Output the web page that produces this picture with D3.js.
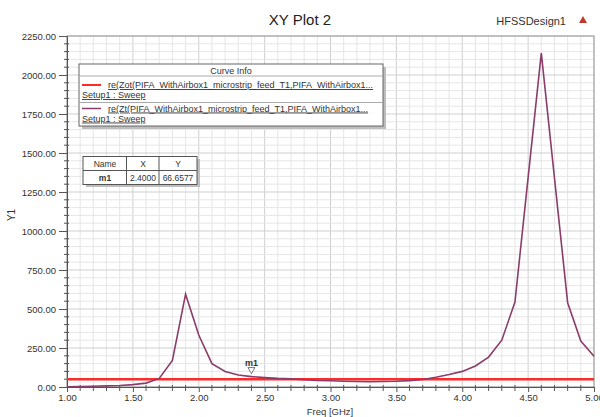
<!DOCTYPE html>
<html><head><meta charset="utf-8">
<script src="https://cdn.jsdelivr.net/npm/d3@7"></script>
<style>body{margin:0;background:#fff}svg{display:block;font-family:Arial,"Liberation Sans",sans-serif}</style>
</head><body><svg id="c" width="600" height="417"></svg>
<script>
const freqZt = [1.0,1.1,1.2,1.3,1.4,1.5,1.6,1.7,1.8,1.9,2.0,2.1,2.2,2.3,2.4,2.5,2.6,2.7,2.8,2.9,3.0,3.1,3.2,3.3,3.4,3.5,3.6,3.7,3.8,3.9,4.0,4.1,4.2,4.3,4.4,4.6,4.8,4.9,5.0];
const valZt  = [2,3,5,7,10,15,25,55,170,595,333,150,100,77,66.6577,60,55,52,46,42,40,37,35,34,35,37,41,48,62,80,100,135,192,300,545,2140,540,295,197];
const freqZot = [1.0,5.0];
const valZot = [50,50];
const yTicks = [0,250,500,750,1000,1250,1500,1750,2000,2250];
const xTicks = [1.0,1.5,2.0,2.5,3.0,3.5,4.0,4.5,5.0];
const legendLabels = ["re(Zot(PIFA_WithAirbox1_microstrip_feed_T1,PIFA_WithAirbox1...","re(Zt(PIFA_WithAirbox1_microstrip_feed_T1,PIFA_WithAirbox1..."];
const markerName = "m1", markerX = 2.4, markerY = 66.6577;

const svg = d3.select("#c");
const L=67,R=594,T=36,B=387;
const x = d3.scaleLinear().domain([1,5]).range([L,R]);
const y = d3.scaleLinear().domain([0,2250]).range([B,T]);

// grid
const g = svg.append("g");
g.selectAll("line.vx").data(d3.range(1,5.0001,0.1)).join("line")
 .attr("x1",d=>x(d)).attr("x2",d=>x(d)).attr("y1",T).attr("y2",B)
 .attr("stroke",(d,i)=>i%5==0?"#cfcfcf":"#e6e6e6").attr("stroke-width",1);
g.selectAll("line.hy").data(d3.range(0,2250.1,50)).join("line")
 .attr("y1",d=>y(d)).attr("y2",d=>y(d)).attr("x1",L).attr("x2",R)
 .attr("stroke",(d,i)=>i%5==0?"#cfcfcf":"#e6e6e6").attr("stroke-width",1);
svg.append("rect").attr("x",L).attr("y",T).attr("width",R-L).attr("height",B-T)
 .attr("fill","none").attr("stroke","#9a9a9a").attr("stroke-width",1);

// axes
const ya = d3.axisLeft(y).tickValues(yTicks).tickFormat(d3.format(".2f")).tickSize(8).tickPadding(3);
const yAx = svg.append("g").attr("transform",`translate(${L},0)`).call(ya);
const xa = d3.axisBottom(x).tickValues(xTicks).tickFormat(d3.format(".2f")).tickSize(5).tickPadding(2);
const xAx = svg.append("g").attr("transform",`translate(0,${B})`).call(xa);
[yAx,xAx].forEach(a=>{a.select(".domain").attr("stroke","#555");a.selectAll(".tick line").attr("stroke","#555");
 a.selectAll("text").attr("font-size",9.5).attr("fill","#333").attr("font-family","Arial,'Liberation Sans',sans-serif");});
// minor ticks
svg.append("g").selectAll("line").data(d3.range(0,2250.1,50).filter(v=>v%250!=0)).join("line")
 .attr("x1",L-3).attr("x2",L+2).attr("y1",d=>y(d)).attr("y2",d=>y(d)).attr("stroke","#555");
svg.append("g").selectAll("line").data(d3.range(1,5.0001,0.1).filter((v,i)=>i%5!=0)).join("line")
 .attr("x1",d=>x(d)).attr("x2",d=>x(d)).attr("y1",B-2).attr("y2",B+4).attr("stroke","#555");

// curves
const line = d3.line().x(d=>x(d[0])).y(d=>y(d[1]));
svg.append("path").datum(freqZot.map((f,i)=>[f,valZot[i]])).attr("d",line)
 .attr("fill","none").attr("stroke","#ff2a2a").attr("stroke-width",2.5);
svg.append("path").datum(freqZt.map((f,i)=>[f,valZt[i]])).attr("d",line)
 .attr("fill","none").attr("stroke","#8a3d6a").attr("stroke-width",1.6);

// marker
const mx=x(markerX), my=y(markerY);
svg.append("path").attr("d",`M${mx-3.5},${my-9}L${mx+3.5},${my-9}L${mx},${my-3}Z`).attr("fill","#fff").attr("stroke","#555").attr("stroke-width",0.8);
svg.append("text").attr("x",mx).attr("y",my-11).attr("text-anchor","middle").attr("font-size",9).attr("font-weight","bold").attr("fill","#333").text(markerName);

// titles
svg.append("text").attr("x",300).attr("y",25).attr("text-anchor","middle").attr("font-size",15).attr("fill","#222").text("XY Plot 2");
svg.append("text").attr("x",566).attr("y",25).attr("text-anchor","end").attr("font-size",11).attr("fill","#333").text("HFSSDesign1");
svg.append("path").attr("d","M583,16L587,23L579,23Z").attr("fill","#c0392b");
svg.append("text").attr("x",330).attr("y",415).attr("text-anchor","middle").attr("font-size",9.5).attr("fill","#333").text("Freq [GHz]");
svg.append("text").attr("transform","translate(15,215) rotate(-90)").attr("text-anchor","middle").attr("font-size",10).attr("fill","#333").text("Y1");

// legend box
const lg = svg.append("g");
lg.append("rect").attr("x",82).attr("y",67).attr("width",304).attr("height",62).attr("fill","#bdbdbd");
lg.append("rect").attr("x",79).attr("y",64).attr("width",304).attr("height",62).attr("fill","#fff").attr("stroke","#666").attr("stroke-width",1);
lg.append("text").attr("x",231).attr("y",74).attr("text-anchor","middle").attr("font-size",9).attr("fill","#333").text("Curve Info");
lg.append("line").attr("x1",79).attr("x2",383).attr("y1",76).attr("y2",76).attr("stroke","#aaa");
lg.append("line").attr("x1",79).attr("x2",383).attr("y1",102.5).attr("y2",102.5).attr("stroke","#aaa");
const legColors=["#ff2a2a","#8a3d6a"];
legendLabels.forEach((t,i)=>{
  const yy=85+i*23.5;
  lg.append("line").attr("x1",82).attr("x2",101).attr("y1",yy).attr("y2",yy).attr("stroke",legColors[i]).attr("stroke-width",i==0?2:1.5);
  lg.append("text").attr("x",108).attr("y",yy+3).attr("font-size",9).attr("fill","#333").attr("text-decoration","underline").text(t);
  lg.append("text").attr("x",82).attr("y",yy+13).attr("font-size",9).attr("fill","#333").attr("text-decoration","underline").text("Setup1 : Sweep");
});

// marker table
const tb = svg.append("g");
tb.append("rect").attr("x",86).attr("y",159).attr("width",114).attr("height",28).attr("fill","#bdbdbd");
tb.append("rect").attr("x",83).attr("y",156.5).attr("width",114).attr("height",28).attr("fill","#fff").attr("stroke","#555");
tb.append("line").attr("x1",83).attr("x2",197).attr("y1",170.5).attr("y2",170.5).attr("stroke","#555");
[126.5,159].forEach(v=>tb.append("line").attr("x1",v).attr("x2",v).attr("y1",156.5).attr("y2",184.5).attr("stroke","#555"));
const hdr=["Name","X","Y"], row=[markerName,markerX.toFixed(4),markerY.toFixed(4)], cx=[105,143,178];
hdr.forEach((h,i)=>tb.append("text").attr("x",cx[i]).attr("y",167).attr("text-anchor","middle").attr("font-size",8.5).attr("fill","#333").text(h));
row.forEach((h,i)=>tb.append("text").attr("x",cx[i]).attr("y",181).attr("text-anchor","middle").attr("font-size",8.5).attr("fill","#333").attr("font-weight",i==0?"bold":"normal").text(h));
</script></body></html>
